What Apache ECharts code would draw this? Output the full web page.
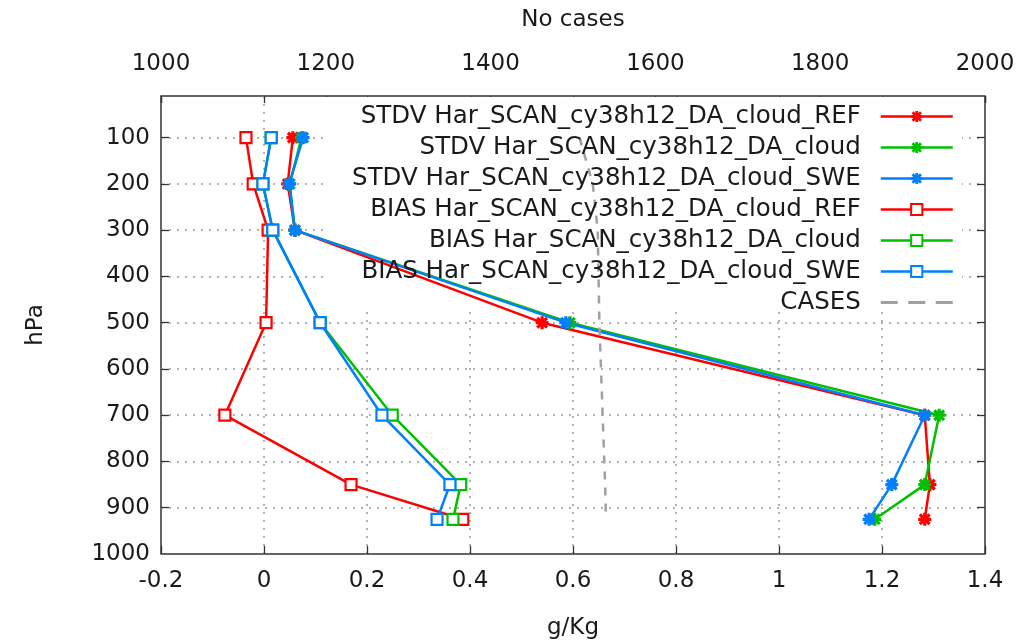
<!DOCTYPE html>
<html>
<head>
<meta charset="utf-8">
<script src="https://cdn.jsdelivr.net/npm/echarts@6/dist/echarts.min.js"></script>
<style>
html, body { margin: 0; background: #fff; }
#chart { width: 1030px; height: 643px; }
</style>
</head>
<body>
<div id="chart"></div>
<script>
// pressure levels (hPa)
var levels = [100, 200, 300, 500, 700, 850, 925];

// g/Kg
var stdvRef   = [0.056, 0.046, 0.060, 0.540, 1.283, 1.293, 1.283];
var stdvCloud = [0.073, 0.050, 0.060, 0.594, 1.311, 1.283, 1.186];
var stdvSwe   = [0.076, 0.049, 0.060, 0.586, 1.283, 1.219, 1.175];
var biasRef   = [-0.035, -0.021, 0.008, 0.004, -0.076, 0.169, 0.386];
var biasCloud = [0.014, -0.002, 0.017, 0.109, 0.249, 0.382, 0.367];
var biasSwe   = [0.014, -0.002, 0.017, 0.109, 0.229, 0.361, 0.336];

// number of cases (top axis)
var casesCount = [1508, 1524, 1530, 1532, 1536, 1539, 1540];

var yTickValues = [100, 200, 300, 400, 500, 600, 700, 800, 900];
var yLabelValues = [100, 200, 300, 400, 500, 600, 700, 800, 900, 1000];

var names = [
    'STDV Har_SCAN_cy38h12_DA_cloud_REF',
    'STDV Har_SCAN_cy38h12_DA_cloud',
    'STDV Har_SCAN_cy38h12_DA_cloud_SWE',
    'BIAS Har_SCAN_cy38h12_DA_cloud_REF',
    'BIAS Har_SCAN_cy38h12_DA_cloud',
    'BIAS Har_SCAN_cy38h12_DA_cloud_SWE',
    'CASES'
];

var RED = '#ff0000', GREEN = '#00c000', BLUE = '#0080ff', GREY = '#a0a0a0';
var FONT = 'DejaVu Sans';
var FS = 23;
var TXT = '#1a1a1a';
var AX = '#333';

// asterisk marker
var STAR = 'path://M0 9H24V15H0Z M9 0H15V24H9Z ' +
    'M5.12 0.88L23.12 18.88L18.88 23.12L0.88 5.12Z ' +
    'M23.12 5.12L5.12 23.12L0.88 18.88L18.88 0.88Z';
// dashed legend sample for CASES
var DASHES = 'path://M0 0M72 14M0 5.6H17V8.4H0Z M27.5 5.6H44.5V8.4H27.5Z M55 5.6H72V8.4H55Z';

function pairs(xs) {
    return xs.map(function (v, i) { return [v, levels[i]]; });
}
function plain(v) { return String(v); }

function stdvSeries(name, vals, color) {
    return {
        name: name,
        type: 'line',
        data: pairs(vals),
        symbol: STAR,
        symbolSize: 13,
        lineStyle: { color: color, width: 2.5 },
        itemStyle: { color: color },
        z: 2
    };
}

function biasSeries(name, vals, color) {
    return {
        name: name,
        type: 'line',
        data: pairs(vals),
        symbol: 'rect',
        symbolSize: 11,
        lineStyle: { color: color, width: 2.5 },
        itemStyle: { color: '#fff', borderColor: color, borderWidth: 2.2 },
        z: 3
    };
}

var dots = { color: '#999', width: 1.5, type: [2, 6] };

var option = {
    animation: false,
    textStyle: { fontFamily: FONT },
    grid: { left: 161, right: 45, top: 96, bottom: 89, show: true,
        borderColor: AX, borderWidth: 1.5, containLabel: false, outerBoundsMode: 'none' },
    legend: {
        orient: 'vertical',
        right: 76,
        top: 104,
        padding: 0,
        align: 'right',
        itemWidth: 72,
        itemHeight: 14,
        itemGap: 6,
        selectedMode: false,
        lineStyle: { width: 2.5 },
        data: names.map(function (n) {
            return n === 'CASES' ? { name: n, icon: DASHES } : { name: n };
        }),
        textStyle: { fontFamily: FONT, fontSize: 24.5, color: TXT, lineHeight: 24,
            padding: [0, 15, 0, 0] }
    },
    graphic: [{
        type: 'rect',
        shape: { x: 325, y: 97, width: 637, height: 215 },
        style: { fill: '#fff' },
        z: 1,
        silent: true
    }],
    xAxis: [
        {
            type: 'value', position: 'bottom',
            min: -0.2, max: 1.4, interval: 0.2,
            name: 'g/Kg', nameLocation: 'middle', nameGap: 63,
            nameTextStyle: { fontSize: FS, color: TXT, fontFamily: FONT },
            axisLine: { show: false, onZero: false },
            axisTick: { show: true, inside: true, length: 8, lineStyle: { color: AX, width: 1.3 } },
            axisLabel: { fontSize: FS, color: TXT, margin: 16, fontFamily: FONT, formatter: plain },
            splitLine: { show: true, showMinLine: false, showMaxLine: false, lineStyle: dots }
        },
        {
            type: 'value', position: 'top',
            min: 1000, max: 2000, interval: 200,
            name: 'No cases', nameLocation: 'middle', nameGap: 64,
            nameTextStyle: { fontSize: FS, color: TXT, fontFamily: FONT },
            axisLine: { show: false, onZero: false },
            axisTick: { show: true, inside: true, length: 7, lineStyle: { color: AX, width: 1.3 } },
            axisLabel: { fontSize: FS, color: TXT, margin: 20, fontFamily: FONT, formatter: plain },
            splitLine: { show: false }
        },
        {
            // mirror ticks of g/Kg on top
            type: 'value', position: 'top', offset: 0,
            min: -0.2, max: 1.4, interval: 0.2,
            axisLine: { show: false, onZero: false },
            axisTick: { show: true, inside: true, length: 7, lineStyle: { color: AX, width: 1.3 } },
            axisLabel: { show: false },
            splitLine: { show: false }
        }
    ],
    yAxis: [
        {
            type: 'value', inverse: true, position: 'left',
            min: 10, max: 1000,
            name: 'hPa', nameLocation: 'middle', nameGap: 113,
            nameTextStyle: { fontSize: FS, color: TXT, fontFamily: FONT },
            axisLine: { show: false, onZero: false },
            axisTick: { show: true, inside: true, length: 8, customValues: yTickValues,
                lineStyle: { color: AX, width: 1.3 } },
            axisLabel: { fontSize: FS, color: TXT, margin: 11, customValues: yLabelValues,
                fontFamily: FONT, formatter: plain },
            splitLine: { show: true, lineStyle: dots }
        },
        {
            type: 'value', inverse: true, position: 'right',
            min: 10, max: 1000,
            axisLine: { show: false, onZero: false },
            axisTick: { show: true, inside: true, length: 8, customValues: yTickValues,
                lineStyle: { color: AX, width: 1.3 } },
            axisLabel: { show: false },
            splitLine: { show: false }
        }
    ],
    series: [
        stdvSeries(names[0], stdvRef, RED),
        stdvSeries(names[1], stdvCloud, GREEN),
        stdvSeries(names[2], stdvSwe, BLUE),
        biasSeries(names[3], biasRef, RED),
        biasSeries(names[4], biasCloud, GREEN),
        biasSeries(names[5], biasSwe, BLUE),
        {
            name: names[6],
            type: 'line',
            xAxisIndex: 1,
            data: casesCount.map(function (v, i) { return [v, levels[i]]; }),
            symbol: 'none',
            lineStyle: { color: GREY, width: 2.5, type: [8, 8] },
            itemStyle: { color: GREY },
            z: 2
        }
    ]
};

var chart = echarts.init(document.getElementById('chart'));
chart.setOption(option);
</script>
</body>
</html>
